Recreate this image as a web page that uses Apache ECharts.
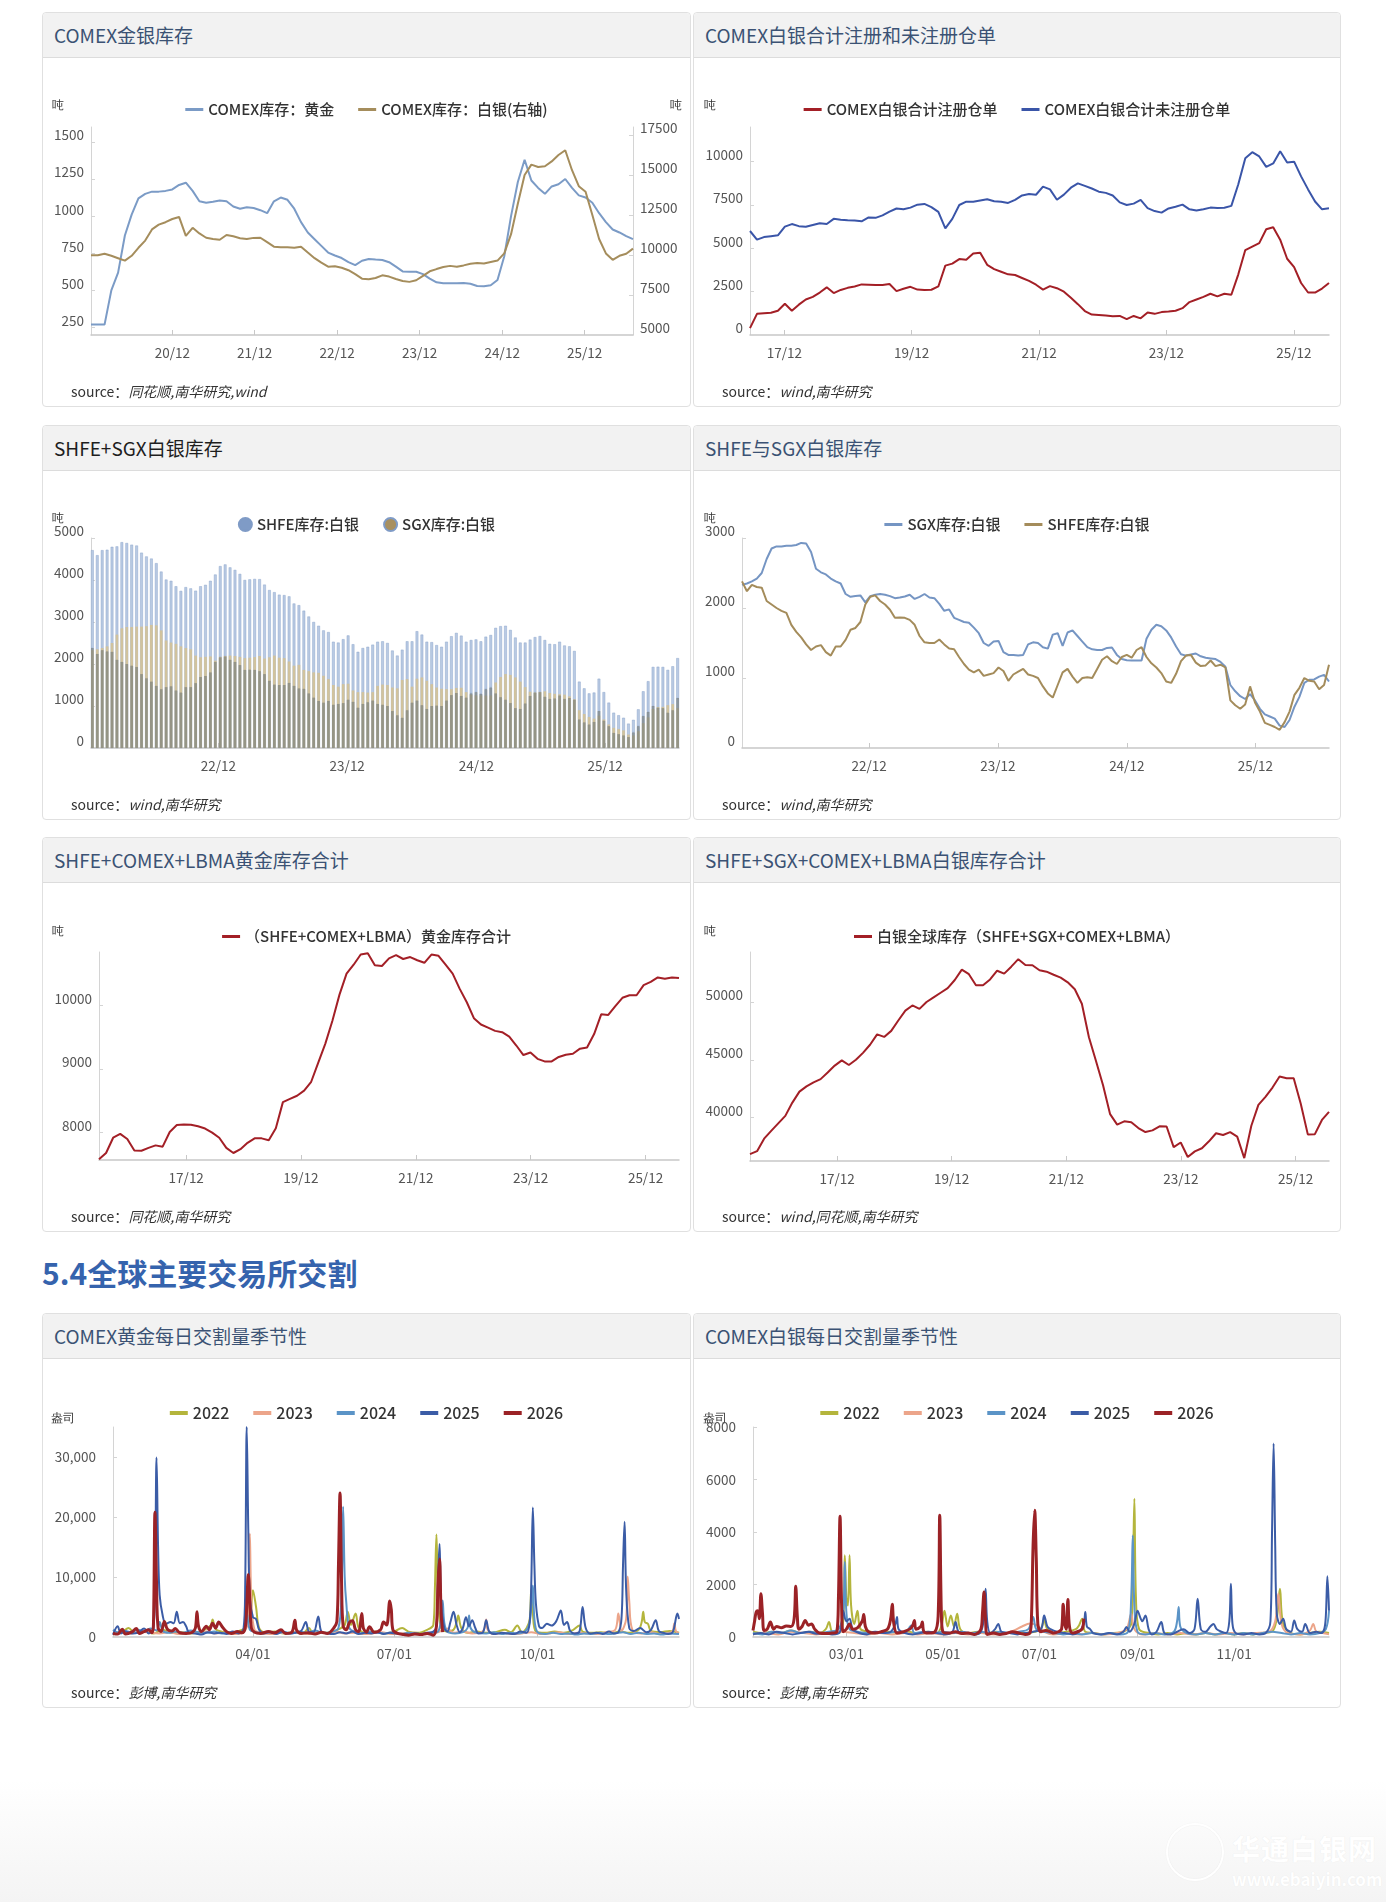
<!DOCTYPE html>
<html>
<head>
<meta charset="utf-8">
<title>金银库存与交割</title>
<script src="https://cdn.jsdelivr.net/npm/echarts@6/dist/echarts.min.js"></script>
<style>
  body { margin: 0; background: #fff; font-family: 'Noto Sans CJK SC', 'Noto Sans', sans-serif; }
  #page { position: relative; width: 1386px; height: 1902px; overflow: hidden;
    background: linear-gradient(to bottom, #fff 0, #fff 1780px, #f4f4f4 1902px); }
  .panel { position: absolute; height: 395px; border: 1px solid #e0e0e0; border-radius: 4px;
    background: #fff; box-sizing: border-box; }
  .c1 { left: 42px; width: 649px; }
  .c2 { left: 693px; width: 648px; }
  .panel .hd { height: 44px; line-height: 44px; background: #f2f2f2; border-bottom: 1px solid #dcdcdc;
    padding-left: 11px; font-size: 19px; color: #3b5274; border-radius: 4px 4px 0 0; }
  .panel .bd { position: absolute; left: 0; right: 0; top: 45px; bottom: 0; }
  .panel .src { position: absolute; left: 28px; top: 369px; font-size: 14px; line-height: 18px; color: #333; }
  .panel .src i { font-style: italic; }
  .sec { position: absolute; left: 42px; top: 1252px; font-size: 30px; line-height: 40px;
    font-weight: bold; color: #3563ad; }
  .wm { position: absolute; left: 1232px; top: 1828px; font-size: 28px; font-weight: bold; color: #fff;
    text-shadow: 0 0 1px #e6e6e6; letter-spacing: 1px; }
  .wm2 { position: absolute; left: 1232px; top: 1866px; font-size: 17px; font-weight: bold; color: #fff;
    text-shadow: 0 0 1px #e6e6e6; }
  .wmc { position: absolute; left: 1166px; top: 1823px; width: 54px; height: 54px; border-radius: 50%;
    border: 2px solid #fff; box-shadow: 0 0 1px #e2e2e2, inset 0 0 1px #e2e2e2; }
</style>
</head>
<body>
<div id="page">
  <div class="panel c1" style="top:12px"><div class="hd">COMEX金银库存</div><div class="bd" id="ch1"></div>
    <div class="src">source：<i>同花顺,南华研究,wind</i></div></div>
  <div class="panel c2" style="top:12px"><div class="hd">COMEX白银合计注册和未注册仓单</div><div class="bd" id="ch2"></div>
    <div class="src">source：<i>wind,南华研究</i></div></div>

  <div class="panel c1" style="top:425px"><div class="hd" style="color:#1e1e1e">SHFE+SGX白银库存</div><div class="bd" id="ch3"></div>
    <div class="src">source：<i>wind,南华研究</i></div></div>
  <div class="panel c2" style="top:425px"><div class="hd">SHFE与SGX白银库存</div><div class="bd" id="ch4"></div>
    <div class="src">source：<i>wind,南华研究</i></div></div>

  <div class="panel c1" style="top:837px"><div class="hd">SHFE+COMEX+LBMA黄金库存合计</div><div class="bd" id="ch5"></div>
    <div class="src">source：<i>同花顺,南华研究</i></div></div>
  <div class="panel c2" style="top:837px"><div class="hd">SHFE+SGX+COMEX+LBMA白银库存合计</div><div class="bd" id="ch6"></div>
    <div class="src">source：<i>wind,同花顺,南华研究</i></div></div>

  <div class="sec">5.4全球主要交易所交割</div>

  <div class="panel c1" style="top:1313px"><div class="hd">COMEX黄金每日交割量季节性</div><div class="bd" id="ch7"></div>
    <div class="src">source：<i>彭博,南华研究</i></div></div>
  <div class="panel c2" style="top:1313px"><div class="hd">COMEX白银每日交割量季节性</div><div class="bd" id="ch8"></div>
    <div class="src">source：<i>彭博,南华研究</i></div></div>

  <div class="wmc"></div>
  <div class="wm">华通白银网</div>
  <div class="wm2">www.ebaiyin.com</div>
</div>

<script>
const FONT = "'Noto Sans CJK SC', 'Noto Sans', sans-serif";

// ---------- COMEX金银库存（吨），每30天一个点 ----------
const comexStart = '2019/12/07';
const comexGold = [270, 270, 270, 500, 620, 870, 1010, 1120, 1150, 1165,
  1165, 1170, 1180, 1210, 1225, 1170, 1100, 1090, 1097, 1105,
  1100, 1065, 1050, 1060, 1055, 1040, 1020, 1100, 1125, 1110,
  1050, 960, 890, 845, 800, 755, 735, 718, 690, 670,
  700, 712, 708, 705, 690, 660, 628, 626, 626, 610,
  580, 555, 548, 548, 548, 550, 545, 530, 528, 535,
  570, 730, 1000, 1230, 1380, 1240, 1190, 1150, 1200, 1215,
  1250, 1190, 1140, 1125, 1090, 1020, 960, 910, 890, 865, 845];
const comexSilver = [9980, 9990, 10080, 9950, 9800, 9650, 9950, 10450, 10900, 11600,
  11900, 12050, 12250, 12380, 11200, 11700, 11350, 11080, 11000, 10950,
  11250, 11170, 11050, 11000, 11070, 11080, 10800, 10520, 10480, 10480,
  10450, 10520, 10150, 9800, 9520, 9270, 9300, 9200, 9050, 8800,
  8520, 8480, 8560, 8730, 8650, 8500, 8380, 8320, 8420, 8700,
  8980, 9120, 9250, 9320, 9260, 9350, 9450, 9500, 9470, 9560,
  9650, 10100, 11300, 13200, 15000, 15650, 15500, 15550, 15850, 16250,
  16550, 15300, 14300, 13950, 12500, 11000, 10100, 9700, 9950, 10080, 10400];
const comexTicks = ['2020/12/01', '2021/12/01', '2022/12/01', '2023/12/01', '2024/12/01', '2025/12/01'];

// ---------- COMEX白银注册/未注册仓单（吨），每40天一个点 ----------
const warrantStart = '2017/05/18';
const registered = [400, 1220, 1260, 1280, 1400, 1800, 1400, 1750, 2050, 2200,
  2450, 2750, 2420, 2600, 2720, 2800, 2920, 2900, 2880, 2880,
  2940, 2530, 2670, 2780, 2620, 2590, 2610, 2800, 4000, 4120,
  4380, 4340, 4700, 4750, 4050, 3800, 3650, 3500, 3460, 3290,
  3120, 2900, 2620, 2820, 2700, 2500, 2150, 1780, 1380, 1180,
  1160, 1120, 1080, 1100, 920, 1100, 960, 1300, 1220, 1320,
  1350, 1400, 1550, 1900, 2050, 2200, 2380, 2230, 2380, 2320,
  3500, 4900, 5100, 5300, 6100, 6220, 5500, 4400, 3920, 3000,
  2450, 2450, 2680, 3000];
const unregistered = [6000, 5500, 5650, 5700, 5750, 6250, 6400, 6280, 6250, 6350,
  6450, 6400, 6700, 6650, 6620, 6600, 6560, 6780, 6760, 6900,
  7115, 7300, 7250, 7350, 7520, 7560, 7380, 7100, 6150, 6700,
  7500, 7690, 7690, 7760, 7830, 7720, 7690, 7620, 7800, 8050,
  8130, 8090, 8560, 8400, 7800, 8100, 8500, 8750, 8600, 8450,
  8270, 8200, 8050, 7650, 7500, 7580, 7790, 7320, 7150, 7060,
  7300, 7400, 7520, 7250, 7180, 7250, 7350, 7320, 7340, 7450,
  8700, 10200, 10550, 10300, 9700, 9900, 10600, 9950, 10000, 9150,
  8400, 7700, 7250, 7310];
const oddYearTicks = ['2017/12/01', '2019/12/01', '2021/12/01', '2023/12/01', '2025/12/01'];

// ---------- SHFE / SGX 白银库存（吨），每14天一个点 ----------
const asiaStart = '2021/12/05';
const sgxSilver = [2330, 2350, 2380, 2420, 2500, 2700, 2850, 2880, 2880, 2890,
  2890, 2900, 2930, 2920, 2800, 2560, 2510, 2480, 2420, 2380,
  2350, 2200, 2160, 2170, 2180, 2080, 2170, 2190, 2200, 2190,
  2170, 2140, 2150, 2165, 2190, 2130, 2160, 2200, 2150, 2140,
  2060, 1960, 1980, 1860, 1830, 1800, 1790, 1720, 1640, 1500,
  1460, 1520, 1530, 1370, 1330, 1330, 1320, 1330, 1480, 1510,
  1500, 1440, 1420, 1620, 1640, 1460, 1650, 1680, 1600, 1520,
  1440, 1410, 1400, 1400, 1430, 1435, 1330, 1270, 1255, 1250,
  1250, 1250, 1560, 1690, 1760, 1740, 1680, 1580, 1450, 1340,
  1320, 1335, 1350, 1310, 1290, 1280, 1270, 1230, 1160, 900,
  810, 740, 700, 770, 680, 560, 480, 450, 420, 320,
  300, 400, 590, 730, 930, 975, 980, 1020, 1045, 950];
const shfeSilver = [2380, 2240, 2330, 2300, 2290, 2100, 2050, 2000, 1960, 1930,
  1760, 1660, 1580, 1480, 1400, 1450, 1470, 1370, 1320, 1450,
  1450, 1545, 1690, 1715, 1800, 2050, 2160, 2180, 2100, 2050,
  1975, 1860, 1865, 1860, 1830, 1760, 1600, 1510, 1500, 1500,
  1550, 1480, 1420, 1410, 1300, 1200, 1120, 1080, 1120, 1030,
  1050, 1070, 1150, 1100, 960, 1050, 1090, 1130, 1050, 1030,
  1000, 880, 780, 720, 900, 1080, 1130, 1020, 930, 1000,
  1010, 1000, 1130, 1260, 1310, 1240, 1200, 1300, 1330, 1290,
  1400, 1440, 1300, 1210, 1150, 1070, 950, 930, 1060, 1240,
  1320, 1330, 1220, 1170, 1180, 1250, 1170, 1190, 1150, 680,
  610, 560, 620, 880, 650, 520, 360, 330, 300, 260,
  370, 520, 760, 860, 1000, 960, 950, 840, 900, 1190];
const asiaTicks = ['2022/12/01', '2023/12/01', '2024/12/01', '2025/12/01'];

// ---------- 全球库存合计（吨），每45天一个点 ----------
const globalStart = '2016/05/25';
const goldTotal = [7580, 7680, 7920, 7980, 7900, 7718, 7715, 7760, 7800, 7780,
  8010, 8120, 8130, 8125, 8100, 8065, 8000, 7920, 7760, 7680,
  7740, 7840, 7910, 7910, 7880, 8070, 8480, 8530, 8580, 8660,
  8800, 9100, 9400, 9760, 10170, 10500, 10640, 10800, 10820, 10630,
  10620, 10740, 10790, 10730, 10760, 10710, 10670, 10800, 10780, 10640,
  10500, 10260, 10050, 9800, 9700, 9650, 9600, 9580, 9510, 9370,
  9220, 9260, 9160, 9120, 9120, 9190, 9225, 9240, 9320, 9340,
  9550, 9860, 9850, 9990, 10120, 10160, 10160, 10320, 10370, 10440,
  10420, 10440, 10430];
const silverTotal = [36840, 37100, 38180, 38850, 39500, 40150, 41300, 42250, 42700, 43050,
  43330, 43900, 44500, 44950, 44550, 45000, 45600, 46300, 47200, 46980,
  47500, 48400, 49250, 49700, 49400, 50000, 50400, 50800, 51200, 51900,
  52800, 52400, 51450, 51440, 51950, 52700, 52450, 53050, 53700, 53200,
  53170, 52740, 52620, 52350, 52100, 51700, 51100, 49850, 46950, 44900,
  42800, 40300, 39400, 39680, 39600, 39100, 38750, 38900, 39250, 39230,
  37450, 37850, 36600, 37080, 37350, 37950, 38650, 38500, 38750, 38360,
  36500, 39300, 41100, 41800, 42600, 43550, 43400, 43400, 41200, 38550,
  38570, 39800, 40500];

// ---------- 季节性交割（盎司）：[一年中的第几天, 交割量] ----------
const seasonYears = ['2022', '2023', '2024', '2025', '2026'];
const seasonColors = ['#b4b53c', '#eca58a', '#5b94c7', '#3b5ca6', '#9b2226'];

const goldDeliv2022 = [[0,700],[6,900],[10,1500],[14,700],[20,900],[26,600],[32,1200],[38,700],[44,800],[50,600],[56,900],[60,1400],[63,2000],[64,2900],[66,1300],[70,900],[75,700],[80,900],[85,1500],[88,3000],[90,7800],[92,5000],[94,1500],[98,700],[104,900],[110,600],[116,800],[122,600],[126,1500],[128,900],[134,700],[140,800],[146,1400],[149,2000],[151,4200],[153,2000],[156,3900],[158,1500],[162,700],[168,900],[174,600],[180,800],[186,1500],[190,900],[196,700],[202,1200],[206,2000],[207,8000],[208,17100],[209,7000],[211,1500],[215,900],[219,1200],[221,2500],[222,3600],[224,1500],[228,700],[234,900],[240,700],[246,800],[252,1200],[256,800],[260,1900],[263,800],[266,1500],[268,3000],[269,8000],[270,4000],[272,900],[278,700],[284,900],[290,700],[296,1200],[300,1900],[302,900],[308,700],[314,800],[320,600],[326,900],[332,700],[338,1200],[340,2500],[341,4200],[342,2500],[344,2200],[346,1000],[352,800],[358,1000],[364,700]];
const goldDeliv2023 = [[0,500],[6,800],[12,600],[18,900],[24,700],[30,600],[36,800],[42,500],[48,700],[54,600],[60,900],[66,600],[72,700],[78,500],[84,800],[87,3000],[88,17200],[89,6000],[91,1200],[95,700],[101,500],[107,700],[113,600],[119,800],[125,500],[131,700],[137,600],[143,900],[149,600],[155,700],[161,500],[167,600],[173,800],[179,500],[185,600],[191,700],[197,500],[203,600],[209,800],[215,1400],[219,700],[225,900],[231,600],[237,800],[239,1500],[240,2900],[241,1200],[245,500],[251,700],[257,500],[263,600],[269,800],[275,500],[281,600],[287,800],[293,500],[299,700],[305,600],[311,500],[317,800],[323,1200],[325,3900],[327,1000],[330,3000],[331,10100],[332,6000],[334,1200],[340,600],[346,800],[352,500],[358,700],[360,1000],[361,2300],[362,1000],[364,600]];
const goldDeliv2024 = [[0,1200],[4,700],[8,1000],[12,800],[16,1200],[20,900],[24,1400],[28,1100],[30,2500],[32,1000],[36,700],[40,900],[45,700],[50,1100],[55,800],[60,700],[65,900],[70,600],[75,800],[80,700],[84,900],[86,4000],[88,1200],[92,800],[96,600],[100,900],[105,700],[110,800],[115,600],[120,900],[125,700],[130,1100],[135,700],[140,800],[145,1500],[147,8000],[148,21700],[149,10000],[150,5800],[152,1500],[156,800],[160,600],[165,900],[170,700],[175,600],[180,800],[185,500],[190,700],[195,600],[200,500],[205,700],[209,900],[211,3000],[212,6100],[213,2500],[215,900],[220,600],[225,800],[228,1500],[229,3600],[230,1500],[234,700],[240,600],[245,800],[250,500],[255,700],[260,600],[265,900],[268,2500],[270,8600],[271,3000],[273,800],[278,500],[283,700],[288,500],[293,600],[298,400],[303,600],[308,500],[313,700],[318,500],[323,600],[328,800],[333,500],[338,700],[343,500],[348,600],[353,400],[358,600],[364,500]];
const goldDeliv2025 = [[0,400],[3,1800],[5,600],[8,900],[12,600],[16,700],[20,1400],[23,600],[26,1500],[27,8000],[28,29900],[29,15000],[30,7000],[32,3500],[34,2200],[37,2500],[39,2300],[41,4200],[43,2300],[45,2500],[47,1800],[49,700],[53,600],[57,400],[61,800],[65,600],[69,700],[73,500],[77,900],[81,600],[84,1500],[85,8000],[86,35000],[87,18000],[88,6400],[90,3300],[92,3000],[94,1200],[97,600],[101,800],[105,500],[109,900],[113,600],[117,700],[121,1000],[124,2500],[126,900],[129,800],[132,3400],[134,900],[138,600],[142,500],[146,800],[150,600],[154,900],[158,500],[162,700],[166,600],[170,800],[174,500],[178,700],[182,600],[186,500],[190,400],[194,600],[198,500],[202,700],[206,900],[208,1800],[209,9000],[210,15500],[211,6000],[213,1500],[215,900],[217,2500],[219,4200],[221,2000],[223,800],[225,1500],[227,3300],[229,1800],[231,2800],[233,1500],[235,600],[238,800],[240,2800],[242,900],[246,500],[250,700],[254,600],[258,500],[262,900],[266,700],[268,2500],[269,9000],[270,21600],[271,12000],[272,5500],[274,1800],[276,1500],[279,2200],[282,1900],[285,2600],[288,4400],[290,2000],[292,2500],[294,1000],[297,600],[300,900],[302,5000],[304,1500],[307,600],[311,700],[315,500],[319,900],[322,600],[325,800],[327,3000],[328,12000],[329,19200],[330,8000],[332,1500],[335,1000],[339,1500],[343,800],[346,1200],[349,2800],[351,1000],[354,700],[357,500],[360,800],[363,3900],[364,3000]];
const goldDeliv2026 = [[0,600],[3,500],[6,1300],[8,500],[12,800],[15,1400],[17,600],[20,900],[23,1200],[25,700],[26,2000],[27,20800],[28,9000],[29,1500],[31,900],[33,2600],[35,1300],[38,1000],[40,1400],[43,700],[47,600],[51,800],[53,1500],[54,4200],[55,1800],[57,900],[60,1800],[62,1200],[64,2300],[66,1500],[68,2500],[70,1800],[73,900],[76,600],[80,900],[83,700],[85,1500],[86,5000],[87,10400],[88,6000],[89,1500],[91,800],[95,600],[100,900],[104,700],[108,1200],[111,600],[115,800],[117,2800],[118,1200],[121,600],[125,700],[130,500],[134,800],[138,600],[142,1500],[144,2600],[145,12000],[146,24000],[147,9000],[148,1800],[150,1200],[152,2400],[154,2700],[156,1200],[158,900],[160,3900],[161,1500],[163,800],[165,1700],[168,800],[172,1200],[174,2500],[176,2000],[178,6000],[179,4500],[180,1200],[183,600],[187,400],[190,300],[194,500],[198,400],[202,600],[206,300],[208,1800],[209,9000],[210,13000],[211,4000],[212,800]];

const silverDeliv2022 = [[0,200],[6,150],[12,200],[18,150],[24,250],[30,150],[36,200],[42,150],[46,300],[48,570],[50,200],[54,150],[57,600],[58,3110],[59,1500],[60,1200],[61,3110],[62,1200],[64,500],[66,1000],[68,300],[74,200],[80,150],[86,200],[92,150],[98,200],[104,150],[110,200],[116,150],[119,400],[121,1000],[123,400],[125,820],[127,400],[129,890],[131,300],[136,150],[142,200],[148,150],[154,200],[160,150],[166,200],[172,150],[178,200],[182,300],[184,660],[186,300],[192,150],[198,200],[204,300],[206,440],[208,700],[210,200],[216,150],[222,100],[228,150],[234,200],[239,500],[240,2000],[241,5270],[242,1500],[244,300],[250,150],[256,100],[262,150],[268,100],[274,150],[280,100],[286,150],[292,100],[298,150],[304,100],[310,150],[316,100],[322,150],[328,200],[331,700],[333,1840],[335,500],[340,150],[346,100],[352,150],[358,200],[364,150]];
const silverDeliv2023 = [[0,100],[8,150],[16,100],[24,200],[32,150],[40,100],[48,150],[56,200],[64,150],[72,100],[80,150],[88,100],[96,150],[104,100],[112,150],[120,100],[128,150],[136,100],[144,150],[152,100],[160,150],[165,250],[170,400],[175,510],[180,420],[184,200],[190,100],[198,150],[206,100],[214,150],[222,100],[230,150],[236,300],[239,890],[241,300],[246,100],[254,150],[262,100],[270,150],[278,100],[286,150],[294,100],[302,150],[310,100],[318,150],[326,200],[330,600],[332,1650],[334,500],[338,150],[346,100],[352,250],[354,500],[356,200],[360,150],[364,100]];
const silverDeliv2024 = [[0,150],[6,100],[12,200],[18,150],[24,250],[30,150],[36,200],[42,150],[48,200],[54,300],[57,900],[58,2860],[59,950],[61,300],[66,200],[72,150],[78,200],[84,150],[90,200],[96,150],[100,440],[102,150],[108,200],[114,150],[120,200],[126,150],[132,200],[138,150],[144,200],[150,150],[156,200],[162,150],[168,200],[174,300],[177,760],[179,300],[184,200],[190,150],[196,100],[202,150],[208,100],[214,150],[220,100],[226,150],[232,100],[237,200],[239,1500],[240,3870],[241,1200],[243,200],[248,100],[254,150],[260,100],[266,200],[268,600],[269,1140],[270,400],[274,150],[280,100],[286,150],[292,100],[298,150],[304,100],[310,150],[316,100],[322,150],[328,200],[334,150],[340,100],[346,150],[352,100],[358,150],[362,300],[364,1000]];
const silverDeliv2025 = [[0,100],[5,150],[10,100],[15,200],[20,150],[25,100],[30,150],[35,200],[40,120],[45,150],[50,100],[55,200],[57,1000],[59,600],[61,700],[63,300],[67,150],[72,100],[77,200],[82,150],[87,200],[90,500],[91,760],[92,300],[96,150],[101,100],[106,150],[111,200],[116,150],[121,100],[126,200],[128,570],[130,200],[135,150],[140,100],[144,200],[146,800],[147,1840],[148,600],[150,150],[153,300],[155,500],[157,200],[162,150],[167,100],[172,150],[177,200],[182,300],[184,820],[186,400],[188,300],[192,200],[197,150],[202,100],[206,200],[209,500],[210,950],[211,400],[213,300],[215,150],[220,100],[225,150],[230,100],[234,200],[236,380],[238,200],[241,500],[243,1000],[245,700],[246,600],[248,820],[250,300],[252,100],[255,200],[258,570],[260,150],[264,100],[268,200],[272,300],[276,150],[279,300],[281,1460],[283,300],[286,200],[289,400],[291,500],[293,300],[296,200],[299,150],[301,600],[302,2030],[303,500],[305,150],[310,100],[315,150],[320,100],[324,150],[327,600],[328,4000],[329,7370],[330,3500],[331,890],[333,500],[335,700],[337,300],[340,200],[342,630],[344,300],[347,200],[349,500],[352,150],[356,200],[359,150],[361,300],[362,800],[363,2310],[364,1000]];
const silverDeliv2026 = [[0,250],[1,600],[2,950],[3,1000],[4,700],[5,1650],[6,900],[7,250],[9,300],[11,570],[13,300],[15,400],[18,350],[21,420],[24,400],[26,700],[27,1930],[28,800],[29,300],[31,400],[33,630],[35,450],[37,500],[39,300],[42,150],[46,130],[50,150],[53,200],[54,1500],[55,4600],[56,1200],[57,200],[59,300],[61,500],[63,300],[66,350],[69,600],[70,860],[71,400],[73,200],[77,150],[81,200],[85,300],[87,700],[88,1250],[89,500],[91,150],[95,200],[99,300],[101,450],[102,630],[103,300],[106,400],[107,570],[108,200],[111,150],[115,200],[117,800],[118,4640],[119,1000],[120,200],[124,150],[128,200],[132,130],[136,150],[140,100],[144,300],[145,900],[146,1710],[147,600],[148,100],[152,150],[156,100],[160,130],[164,200],[168,150],[172,100],[175,150],[176,800],[177,3500],[178,4830],[179,3000],[180,500],[182,200],[185,250],[188,200],[190,150],[193,200],[195,300],[196,1250],[197,500],[198,300],[199,1430],[200,400],[202,150],[205,200],[208,300],[209,700]];

const goldDayTicks = [90, 181, 273];
const goldDayLabels = ['04/01', '07/01', '10/01'];
const silverDayTicks = [59, 120, 181, 243, 304];
const silverDayLabels = ['03/01', '05/01', '07/01', '09/01', '11/01'];

// ---------- 工具函数 ----------
function makeDates(start, stepDays, n) {
  const t0 = new Date(start).getTime();
  return Array.from({ length: n }, (_, i) => t0 + i * stepDays * 86400000);
}
function zip(dates, vals) {
  return vals.map((v, i) => [dates[i], v]);
}
function ts(list) {
  return list.map(s => new Date(s).getTime());
}
function ymLabel(v) {
  const d = new Date(v);
  return String(d.getFullYear()).slice(2) + '/' + String(d.getMonth() + 1).padStart(2, '0');
}

const AXIS_GREY = '#c8c8c8';
const LABEL_SIZE = 13.5;

// 日期轴用数值轴承载时间戳，刻度放在每年12月
function dateAxis(dates, ticks) {
  const tv = ts(ticks);
  return {
    type: 'value',
    position: 'bottom',
    min: dates[0],
    max: dates[dates.length - 1],
    axisLine: { show: true, lineStyle: { color: AXIS_GREY, width: 1.5 } },
    axisTick: { show: true, inside: true, length: 5, customValues: tv, lineStyle: { color: AXIS_GREY } },
    axisLabel: { customValues: tv, formatter: ymLabel, color: '#555', fontSize: LABEL_SIZE, margin: 11 },
    splitLine: { show: false },
  };
}
function dayAxis(ticks, labels) {
  return {
    type: 'value',
    min: 0,
    max: 364,
    axisLine: { show: true, lineStyle: { color: AXIS_GREY, width: 1.5 } },
    axisTick: { show: true, inside: true, length: 5, customValues: ticks, lineStyle: { color: AXIS_GREY } },
    axisLabel: {
      customValues: ticks, color: '#555', fontSize: LABEL_SIZE, margin: 10,
      formatter: v => labels[ticks.indexOf(v)] || '',
    },
    splitLine: { show: false },
  };
}
function valAxis(min, max, ticks, extra) {
  return Object.assign({
    type: 'value',
    min,
    max,
    axisLine: { show: true, lineStyle: { color: '#d4d4d4' } },
    axisTick: { show: true, inside: true, length: 4, customValues: ticks, lineStyle: { color: '#d4d4d4' } },
    axisLabel: {
      customValues: ticks, color: '#555', fontSize: LABEL_SIZE, margin: 7, verticalAlign: 'bottom',
      formatter: v => String(v),
    },
    splitLine: { show: false },
  }, extra || {});
}
function legend(top, extra) {
  return Object.assign({
    top,
    left: 'center',
    icon: 'rect',
    itemWidth: 18,
    itemHeight: 3,
    itemGap: 24,
    textStyle: { fontSize: 15, color: '#333', fontWeight: 500, fontFamily: FONT },
  }, extra || {});
}
function unitText(left, top, text) {
  return { type: 'text', left, top, style: { text, fontSize: 12, fill: '#333', font: '12px ' + FONT } };
}
function line(name, data, color, width, extra) {
  return Object.assign({
    name, type: 'line', data, showSymbol: false, symbol: 'none',
    lineStyle: { color, width: width || 2 }, itemStyle: { color },
  }, extra || {});
}
function init(id, option) {
  const chart = echarts.init(document.getElementById(id), null, { renderer: 'canvas' });
  option.animation = false;
  option.textStyle = { fontFamily: FONT };
  chart.setOption(option);
  return chart;
}

// 1. COMEX金银库存
const d1 = makeDates(comexStart, 30, comexGold.length);
init('ch1', {
  grid: { left: 48, right: 57, top: 69, bottom: 71 },
  legend: legend(39, { data: ['COMEX库存：黄金', 'COMEX库存：白银(右轴)'] }),
  graphic: [unitText(9, 42, '吨'), unitText(627, 42, '吨')],
  xAxis: dateAxis(d1, comexTicks),
  yAxis: [
    valAxis(200, 1600, [250, 500, 750, 1000, 1250, 1500]),
    valAxis(5000, 18000, [5000, 7500, 10000, 12500, 15000, 17500], { position: 'right' }),
  ],
  series: [
    line('COMEX库存：黄金', zip(d1, comexGold), '#7b9bc6'),
    line('COMEX库存：白银(右轴)', zip(d1, comexSilver), '#a58d5c', 2, { yAxisIndex: 1 }),
  ],
});

// 2. COMEX白银注册/未注册仓单
const d2 = makeDates(warrantStart, 40, registered.length);
init('ch2', {
  grid: { left: 56, right: 11, top: 69, bottom: 71 },
  legend: legend(39, { data: ['COMEX白银合计注册仓单', 'COMEX白银合计未注册仓单'] }),
  graphic: [unitText(10, 42, '吨')],
  xAxis: dateAxis(d2, oddYearTicks),
  yAxis: valAxis(0, 12000, [0, 2500, 5000, 7500, 10000]),
  series: [
    line('COMEX白银合计注册仓单', zip(d2, registered), '#a31f26'),
    line('COMEX白银合计未注册仓单', zip(d2, unregistered), '#3a55a8'),
  ],
});

// 3. SHFE+SGX白银库存（柱）
// 柱子挂在隐藏的 time 轴上（堆叠需要），刻度和标签由同范围的数值轴画
const d3 = makeDates(asiaStart, 14, sgxSilver.length);
const barW = 2.7;
init('ch3', {
  grid: { left: 48, right: 11, top: 67, bottom: 71 },
  legend: legend(41, {
    icon: 'circle', itemWidth: 13, itemHeight: 13,
    data: [
      { name: 'SHFE库存:白银', itemStyle: { color: '#7f9bc6' } },
      { name: 'SGX库存:白银', itemStyle: { color: '#a89060' } },
    ],
  }),
  graphic: [unitText(9, 42, '吨')],
  xAxis: [
    { type: 'time', position: 'bottom', min: d3[0], max: d3[d3.length - 1], show: false },
    dateAxis(d3, asiaTicks),
  ],
  yAxis: valAxis(0, 5000, [0, 1000, 2000, 3000, 4000, 5000]),
  series: [
    { name: 'SHFE库存:白银', type: 'bar', stack: 'tot', barWidth: barW, data: zip(d3, shfeSilver),
      itemStyle: { color: '#b9cae3', borderColor: '#7f9bc6', borderWidth: 0.4 } },
    { name: 'SGX库存:白银', type: 'bar', stack: 'tot', barWidth: barW, data: zip(d3, sgxSilver),
      itemStyle: { color: '#b9cae3', borderColor: '#7f9bc6', borderWidth: 0.4 } },
    { name: 'SGX库存:白银', type: 'bar', barWidth: barW, data: zip(d3, sgxSilver),
      itemStyle: { color: 'rgba(212,194,150,0.9)' } },
    { name: 'SHFE库存:白银', type: 'bar', barWidth: barW, barGap: '-100%', data: zip(d3, shfeSilver),
      itemStyle: { color: 'rgba(118,124,122,0.66)' } },
  ],
});

// 4. SHFE与SGX白银库存（线）
init('ch4', {
  grid: { left: 48, right: 11, top: 67, bottom: 71 },
  legend: legend(41, { data: ['SGX库存:白银', 'SHFE库存:白银'] }),
  graphic: [unitText(10, 42, '吨')],
  xAxis: dateAxis(d3, asiaTicks),
  yAxis: valAxis(0, 3000, [0, 1000, 2000, 3000]),
  series: [
    line('SGX库存:白银', zip(d3, sgxSilver), '#7595c3'),
    line('SHFE库存:白银', zip(d3, shfeSilver), '#a48c5b'),
  ],
});

// 5. 黄金库存合计
const d5 = makeDates(globalStart, 45, goldTotal.length);
init('ch5', {
  grid: { left: 56, right: 11, top: 69, bottom: 71 },
  legend: legend(41, { data: ['（SHFE+COMEX+LBMA）黄金库存合计'] }),
  graphic: [unitText(9, 43, '吨')],
  xAxis: dateAxis(d5, oddYearTicks),
  yAxis: valAxis(7570, 10840, [8000, 9000, 10000]),
  series: [line('（SHFE+COMEX+LBMA）黄金库存合计', zip(d5, goldTotal), '#a31f26')],
});

// 6. 白银库存合计
init('ch6', {
  grid: { left: 56, right: 11, top: 69, bottom: 70 },
  legend: legend(41, { data: ['白银全球库存（SHFE+SGX+COMEX+LBMA）'] }),
  graphic: [unitText(10, 43, '吨')],
  xAxis: dateAxis(d5, oddYearTicks),
  yAxis: valAxis(36250, 54320, [40000, 45000, 50000]),
  series: [line('白银全球库存（SHFE+SGX+COMEX+LBMA）', zip(d5, silverTotal), '#a31f26')],
});

// 7/8. 季节性
function seasonOption(seriesData, yMax, yTicks, dayTicks, dayLabels, left, yFmt) {
  return {
    grid: { left, right: 11, top: 68, bottom: 70 },
    legend: legend(41, { data: seasonYears, itemHeight: 4, textStyle: { fontSize: 16, color: '#333', fontWeight: 500, fontFamily: FONT } }),
    xAxis: dayAxis(dayTicks, dayLabels),
    yAxis: valAxis(0, yMax, yTicks, {
      axisLabel: { customValues: yTicks, color: '#555', fontSize: LABEL_SIZE, margin: 17, formatter: yFmt },
    }),
    series: seriesData.map((d, i) => line(seasonYears[i], d, seasonColors[i], i === 4 ? 3 : 2,
      { smooth: 0.35, z: 2 + i })),
  };
}
const goldOpt = seasonOption(
  [goldDeliv2022, goldDeliv2023, goldDeliv2024, goldDeliv2025, goldDeliv2026],
  35000, [0, 10000, 20000, 30000], goldDayTicks, goldDayLabels, 70,
  v => v.toLocaleString('en-US'));
goldOpt.graphic = [unitText(8, 54, '盎司')];
init('ch7', goldOpt);

const silverOpt = seasonOption(
  [silverDeliv2022, silverDeliv2023, silverDeliv2024, silverDeliv2025, silverDeliv2026],
  8000, [0, 2000, 4000, 6000, 8000], silverDayTicks, silverDayLabels, 59,
  v => String(v));
silverOpt.graphic = [unitText(9, 54, '盎司')];
init('ch8', silverOpt);
</script>
</body>
</html>
